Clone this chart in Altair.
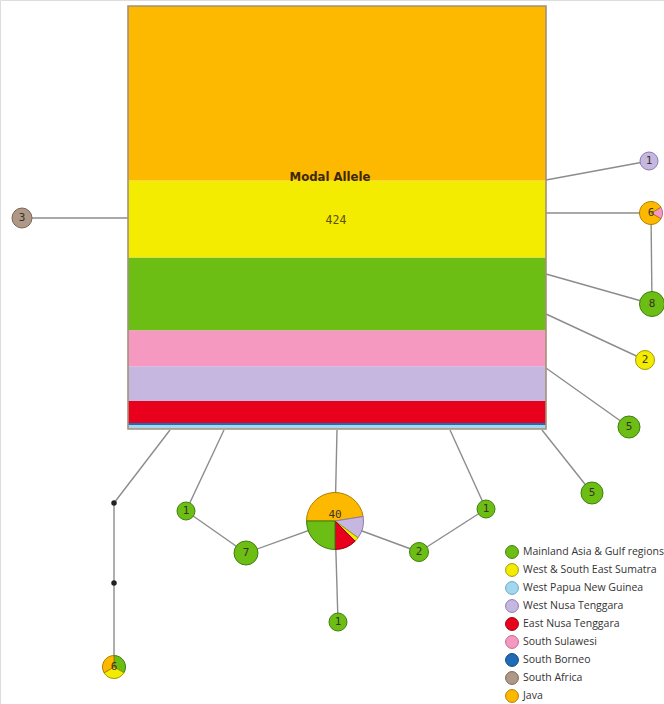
import altair as alt
import pandas as pd
import math

W, H = 664, 704

# ---------------- data ----------------
regions = ["Mainland Asia & Gulf regions", "West & South East Sumatra", "West Papua New Guinea",
           "West Nusa Tenggara", "East Nusa Tenggara", "South Sulawesi", "South Borneo",
           "South Africa", "Java"]
fills = ["#6CBD14", "#F4EC00", "#A3D7EE", "#C6B7E0", "#E9001C", "#F699C1", "#1E6BB8", "#AE9988", "#FDB900"]
edges_col = ["#3F7F0F", "#A39B00", "#6AA9C6", "#8E7BAF", "#9E0012", "#C06A90", "#134A80", "#7B6656", "#B07E00"]

# modal allele (stacked from bottom to top)
modal_regions = ["West Papua New Guinea", "South Borneo", "East Nusa Tenggara", "West Nusa Tenggara",
                 "South Sulawesi", "Mainland Asia & Gulf regions", "West & South East Sumatra", "Java"]
modal_counts = [4, 2, 22, 35, 36, 73, 77, 175]

# other haplotypes: composition (region, count) in clockwise order
hap_ids = ["n1a", "n6a", "n8", "n2y", "n5a", "n5b", "n3", "n6b", "n1b", "n7", "n40", "n2g", "n1c", "n1d"]
hap_regions = [
    ["West Nusa Tenggara"],
    ["South Sulawesi", "Java"],
    ["Mainland Asia & Gulf regions"],
    ["West & South East Sumatra"],
    ["Mainland Asia & Gulf regions"],
    ["Mainland Asia & Gulf regions"],
    ["South Africa"],
    ["Mainland Asia & Gulf regions", "West & South East Sumatra", "Java"],
    ["Mainland Asia & Gulf regions"],
    ["Mainland Asia & Gulf regions"],
    ["Java", "West Nusa Tenggara", "West & South East Sumatra", "East Nusa Tenggara", "Mainland Asia & Gulf regions"],
    ["Mainland Asia & Gulf regions"],
    ["Mainland Asia & Gulf regions"],
    ["Mainland Asia & Gulf regions"],
]
hap_counts = [
    [1], [1, 5], [8], [2], [5], [5], [3], [2, 2, 2], [1], [7], [19, 5, 1, 5, 10], [2], [1], [1],
]

# ---------------- layout (network drawing) ----------------
layout = {
    "n1a": (649, 161), "n6a": (651, 213), "n8": (652, 304), "n2y": (645, 360),
    "n5a": (629, 427), "n5b": (592, 493), "n3": (22, 218), "n6b": (114, 667),
    "n1b": (186, 511), "n7": (246, 553), "n40": (335, 521), "n2g": (419, 552),
    "n1c": (486, 509), "n1d": (338, 622),
    "d1": (114, 503), "d2": (114, 583),
    "aL": (128, 218), "aR1": (546, 180), "aR6": (546, 213), "aR8": (546, 274),
    "aR2": (546, 314), "aR5": (546, 368), "aBR": (542, 430), "aB1": (170, 430),
    "aB2": (224, 430), "aB3": (337, 430), "aB4": (450, 430),
}
rotation_deg = {"n6a": 60, "n40": -90}
box = dict(left=128, right=546, top=6, bottom=429)
edge_list = [
    ("aL", "n3"), ("aR1", "n1a"), ("aR6", "n6a"), ("n6a", "n8"), ("aR8", "n8"),
    ("aR2", "n2y"), ("aR5", "n5a"), ("aBR", "n5b"), ("aB1", "d1"), ("d1", "d2"),
    ("d2", "n6b"), ("aB2", "n1b"), ("n1b", "n7"), ("n7", "n40"), ("aB3", "n40"),
    ("n40", "n1d"), ("aB4", "n1c"), ("n1c", "n2g"), ("n2g", "n40"),
]
dots = ["d1", "d2"]

# ---------------- tables ----------------
rows = []
for hid, regs, cnts in zip(hap_ids, hap_regions, hap_counts):
    for i, (r, c) in enumerate(zip(regs, cnts)):
        rows.append({"node": hid, "region": r, "count": c, "ord": i,
                     "x": layout[hid][0], "y": layout[hid][1],
                     "rot": math.radians(rotation_deg.get(hid, 0))})
slices = pd.DataFrame(rows)

edges = pd.DataFrame([{"x": layout[a][0], "y": layout[a][1], "x2": layout[b][0], "y2": layout[b][1]}
                      for a, b in edge_list])
dots_df = pd.DataFrame([{"x": layout[d][0], "y": layout[d][1]} for d in dots])
modal = pd.DataFrame({"region": modal_regions, "count": modal_counts, "ord": list(range(len(modal_counts)))})

# ---------------- scales ----------------
xs = alt.Scale(domain=[0, W], nice=False, zero=False)
ys = alt.Scale(domain=[0, H], nice=False, zero=False, reverse=True)
color_scale = alt.Scale(domain=regions, range=fills)
stroke_scale = alt.Scale(domain=regions, range=edges_col)
legend = alt.Legend(title=None, orient="none", legendX=505, legendY=545, symbolType="circle",
                    symbolSize=165, symbolStrokeColor="rgba(0,0,0,0.35)", symbolStrokeWidth=1,
                    labelFont="Open Sans", labelFontSize=10.5, labelColor="#333333",
                    rowPadding=0, labelLimit=300, labelOffset=4, symbolOpacity=1)

# ---------------- layers ----------------
edge_layer = alt.Chart(edges).mark_rule(color="#8C8C8C", strokeWidth=1.4).encode(
    x=alt.X("x:Q", scale=xs, axis=None), y=alt.Y("y:Q", scale=ys, axis=None),
    x2="x2:Q", y2="y2:Q")

by = alt.Scale(domain=[0, sum(modal_counts)], range=[box["bottom"], box["top"]], nice=False, zero=False)
bands = alt.Chart(modal).transform_window(
    cum="sum(count)", sort=[alt.SortField("ord", order="ascending")]
).transform_calculate(start="datum.cum - datum.count").mark_rect().encode(
    x=alt.value(box["left"]), x2=alt.value(box["right"]),
    y=alt.Y("start:Q", scale=by, axis=None), y2="cum:Q",
    color=alt.Color("region:N", scale=color_scale, legend=legend))
border = alt.Chart(modal).transform_aggregate(total="sum(count)").transform_calculate(
    base="0").mark_rect(fillOpacity=0, stroke="#A39178", strokeWidth=1.6).encode(
    x=alt.value(box["left"]), x2=alt.value(box["right"]),
    y=alt.Y("base:Q", scale=by, axis=None), y2="total:Q")
box_layer = alt.layer(bands, border)

arcs = alt.Chart(slices).transform_joinaggregate(
    total="sum(count)", groupby=["node"]
).transform_window(
    cum="sum(count)", groupby=["node"], sort=[alt.SortField("ord", order="ascending")]
).transform_calculate(
    t1="datum.rot + 2*PI*(datum.cum - datum.count)/datum.total",
    t2="datum.rot + 2*PI*datum.cum/datum.total",
).mark_arc(strokeWidth=1).encode(
    x=alt.X("x:Q", scale=xs, axis=None), y=alt.Y("y:Q", scale=ys, axis=None),
    theta=alt.Theta("t1:Q", scale=None), theta2="t2:Q",
    radius=alt.Radius("total:Q", scale=alt.Scale(type="linear", domain=[1, 40], range=[9, 28.5], zero=False)),
    radius2=alt.value(0),
    color=alt.Color("region:N", scale=color_scale, legend=legend),
    stroke=alt.Stroke("region:N", scale=stroke_scale, legend=None),
)

labels = alt.Chart(slices).transform_aggregate(
    total="sum(count)", x="mean(x)", y="mean(y)", groupby=["node"]
).transform_calculate(ly="datum.total >= 20 ? datum.y - 6 : datum.y").mark_text(
    font="DejaVu Sans Mono", fontSize=11, color="#3a3320", baseline="middle", align="center"
).encode(
    x=alt.X("x:Q", scale=xs, axis=None), y=alt.Y("ly:Q", scale=ys, axis=None), text="total:Q")

dot_layer = alt.Chart(dots_df).mark_circle(size=30, color="#222222", opacity=1).encode(
    x=alt.X("x:Q", scale=xs, axis=None), y=alt.Y("y:Q", scale=ys, axis=None))

modal_title = alt.Chart(modal).transform_aggregate(total="sum(count)").transform_calculate(
    t="'Modal Allele'").mark_text(font="DejaVu Sans Condensed", fontWeight="bold", fontSize=13,
                                  color="#3B2A05", align="center", baseline="middle").encode(
    x=alt.value((box["left"] + box["right"]) / 2 - 7), y=alt.value(177), text="t:N")
modal_count = alt.Chart(modal).transform_aggregate(total="sum(count)").mark_text(
    font="DejaVu Sans Mono", fontSize=11.5, color="#5a5208", align="center", baseline="middle"
).encode(x=alt.value((box["left"] + box["right"]) / 2 - 1), y=alt.value(221), text="total:Q")

chart = alt.layer(edge_layer, box_layer, arcs, labels, dot_layer, modal_title, modal_count).resolve_scale(
    y="independent"
).properties(width=W, height=H, padding=0, autosize=alt.AutoSizeParams(type="none")).configure_view(
    stroke=None).configure(background="white")

chart.save("out.html", embed_options={"renderer": "svg", "actions": False})
